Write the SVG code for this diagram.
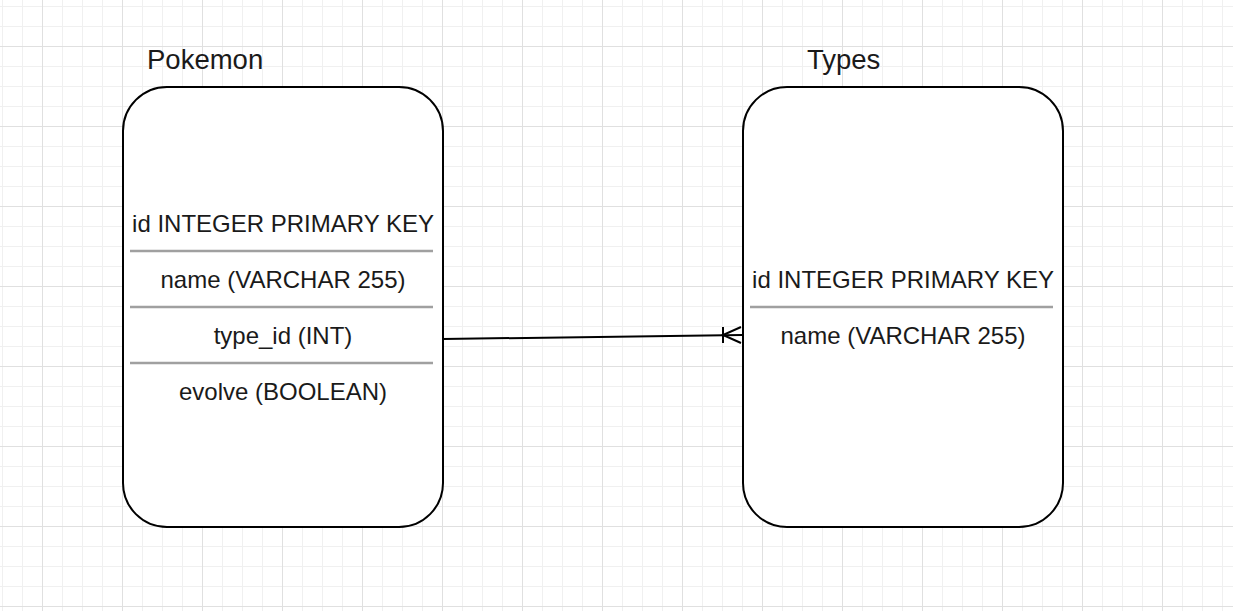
<svg xmlns="http://www.w3.org/2000/svg" width="1233" height="611" viewBox="0 0 1233 611">
<defs>
<pattern id="minor" x="2" y="6" width="20" height="20" patternUnits="userSpaceOnUse">
<path d="M0 0.5H20M0.5 0V20" fill="none" stroke="#f0f0f0" stroke-width="1"/>
</pattern>
<pattern id="major" x="42" y="46" width="80" height="80" patternUnits="userSpaceOnUse">
<path d="M0 0.5H80M0.5 0V80" fill="none" stroke="#e0e0e0" stroke-width="1"/>
</pattern>
</defs>
<style>
.box{fill:#fff;stroke:#000;stroke-width:2}
.sep{stroke:#a0a0a0;stroke-width:2.5}
.t{font-family:"Liberation Sans",Arial,sans-serif;font-size:24px;fill:#1a1a1a;text-anchor:middle}
.title{font-family:"Liberation Sans",Arial,sans-serif;font-size:27.5px;fill:#1a1a1a}
.edge{fill:none;stroke:#000;stroke-width:2}
</style>
<rect width="1233" height="611" fill="#fff"/>
<rect width="1233" height="611" fill="url(#minor)"/>
<rect width="1233" height="611" fill="url(#major)"/>
<g id="pokemon">
<text class="title" x="147" y="69">Pokemon</text>
<rect class="box" x="123" y="87" width="320" height="440" rx="44" ry="44"/>
<text class="t" x="283" y="232">id INTEGER PRIMARY KEY</text>
<line class="sep" x1="130" y1="251" x2="433" y2="251"/>
<text class="t" x="283" y="288">name (VARCHAR 255)</text>
<line class="sep" x1="130" y1="307" x2="433" y2="307"/>
<text class="t" x="283" y="344">type_id (INT)</text>
<line class="sep" x1="130" y1="363" x2="433" y2="363"/>
<text class="t" x="283" y="400">evolve (BOOLEAN)</text>
</g>
<g id="types">
<text class="title" x="807" y="69">Types</text>
<rect class="box" x="743" y="87" width="320" height="440" rx="44" ry="44"/>
<text class="t" x="903" y="288">id INTEGER PRIMARY KEY</text>
<line class="sep" x1="750" y1="307" x2="1053" y2="307"/>
<text class="t" x="903" y="344">name (VARCHAR 255)</text>
</g>
<g id="connectors">
<path class="edge" d="M443 339L742 335"/>
<path class="edge" d="M723 327V343M741 327L723 335L741 343"/>
</g>
</svg>
